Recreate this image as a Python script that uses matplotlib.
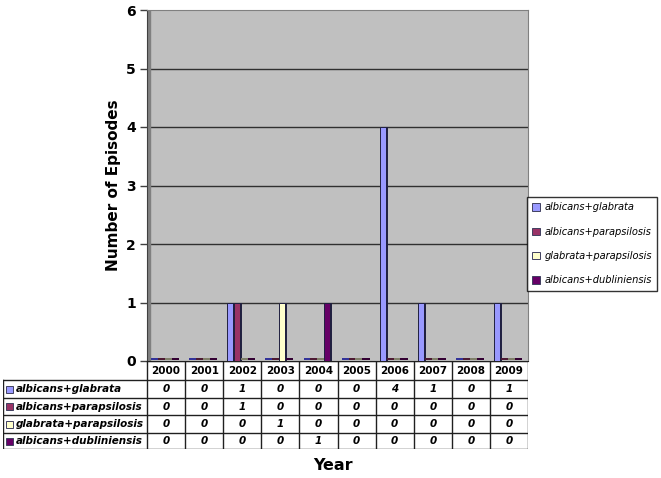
import numpy as np
import matplotlib.pyplot as plt
from matplotlib.patches import Patch, Rectangle

years = ['2000', '2001', '2002', '2003', '2004', '2005', '2006', '2007', '2008', '2009']
series_names = ['albicans+glabrata', 'albicans+parapsilosis',
                'glabrata+parapsilosis', 'albicans+dubliniensis']
albicans_glabrata = [0, 0, 1, 0, 0, 0, 4, 1, 0, 1]
albicans_parapsilosis = [0, 0, 1, 0, 0, 0, 0, 0, 0, 0]
glabrata_parapsilosis = [0, 0, 0, 1, 0, 0, 0, 0, 0, 0]
albicans_dubliniensis = [0, 0, 0, 0, 1, 0, 0, 0, 0, 0]
all_series = [albicans_glabrata, albicans_parapsilosis,
              glabrata_parapsilosis, albicans_dubliniensis]

front_colors = ['#9999FF', '#993366', '#FFFFCC', '#660066']
side_colors = ['#333399', '#4D1A33', '#80806A', '#330033']

W, H = 661, 478
fig = plt.figure(figsize=(W / 100, H / 100), dpi=100)

def fx(px):
    return px / W

def fy(py):
    return 1 - py / H

# main plot
x0, x1, ytop, ybot = 147, 528, 10, 361
ax = fig.add_axes([fx(x0), fy(ybot), fx(x1) - fx(x0), fy(ytop) - fy(ybot)])
ax.set_facecolor('#C0C0C0')
ax.set_xlim(0, len(years))
ax.set_ylim(0, 6)
for v in range(1, 6):
    ax.axhline(v, color='#303030', lw=1, zorder=1)
ax.add_patch(Rectangle((0, 0), 0.008, 1, transform=ax.transAxes,
                       color='#808080', zorder=2))

x = np.arange(len(years))
offsets = [0.11, 0.29, 0.47, 0.65]
bw = 0.15
sw = 0.04
for vals, off, fc, sc in zip(all_series, offsets, front_colors, side_colors):
    ax.bar(x + off, vals, width=bw, align='edge', color=fc,
           edgecolor='#202040', linewidth=0.7, zorder=3)
    ax.bar(x + off + bw, vals, width=sw, align='edge', color=sc,
           edgecolor='#202040', linewidth=0.7, zorder=3)
    # flat floor strips for zero values
    ax.bar(x + off, [0.03 if v == 0 else 0 for v in vals], bottom=0.02,
           width=bw + sw, align='edge', color=sc, linewidth=0, zorder=3)

ax.set_xticks([])
ax.set_yticks(range(0, 7))
ax.set_yticklabels([str(v) for v in range(0, 7)], fontsize=10, fontweight='bold')
ax.tick_params(axis='y', length=5, width=1, color='#404040', pad=3)
for s in ['top', 'right']:
    ax.spines[s].set_color('#808080')
ax.spines['left'].set_color('#404040')
ax.spines['bottom'].set_color('#202020')
ax.set_ylabel('Number of Episodes', fontsize=11, fontweight='bold', labelpad=4)

# data table
tx0, ty0, ty1 = 3, 361, 449
tab = fig.add_axes([fx(tx0), fy(ty1), fx(x1) - fx(tx0), fy(ty0) - fy(ty1)])
tab.set_xlim(tx0, x1)
tab.set_ylim(ty1, ty0)
tab.axis('off')

col_edges = np.linspace(x0, x1, len(years) + 1)
row_edges = [361, 380, 398, 415, 433, 449]
lc = '#202020'
tab.plot([x0, x1], [row_edges[0], row_edges[0]], color=lc, lw=1)
for r in row_edges[1:]:
    tab.plot([tx0, x1], [r, r], color=lc, lw=1)
for c in col_edges:
    tab.plot([c, c], [row_edges[0], row_edges[-1]], color=lc, lw=1)
tab.plot([tx0, tx0], [row_edges[1], row_edges[-1]], color=lc, lw=1)

for j, yr in enumerate(years):
    cx = (col_edges[j] + col_edges[j + 1]) / 2
    tab.text(cx, (row_edges[0] + row_edges[1]) / 2, yr, ha='center', va='center',
             fontsize=7.5, fontweight='bold')
for i, (name, vals) in enumerate(zip(series_names, all_series)):
    cy = (row_edges[i + 1] + row_edges[i + 2]) / 2
    tab.add_patch(Rectangle((tx0 + 3, cy - 3.5), 7, 7, facecolor=front_colors[i],
                            edgecolor='#404060', lw=0.7))
    tab.text(tx0 + 13, cy, name, ha='left', va='center', fontsize=7.5,
             fontweight='bold', fontstyle='italic')
    for j, v in enumerate(vals):
        cx = (col_edges[j] + col_edges[j + 1]) / 2
        tab.text(cx, cy, str(v), ha='center', va='center', fontsize=7.5,
                 fontweight='bold', fontstyle='italic')

fig.text(fx(333), fy(466), 'Year', ha='center', va='center',
         fontsize=11.5, fontweight='bold')

handles = [Patch(facecolor=c, edgecolor='#404060', lw=0.7) for c in front_colors]
leg = fig.legend(handles, series_names, loc='upper left',
                 bbox_to_anchor=(fx(527), fy(197)), frameon=True, fancybox=False,
                 prop={'style': 'italic', 'size': 7.1}, handlelength=0.8,
                 handleheight=0.8, handletextpad=0.4, labelspacing=1.45,
                 borderpad=0.55, borderaxespad=0)
leg.get_frame().set_edgecolor('black')
leg.get_frame().set_linewidth(1)

fig.savefig('out.png', dpi=100)
